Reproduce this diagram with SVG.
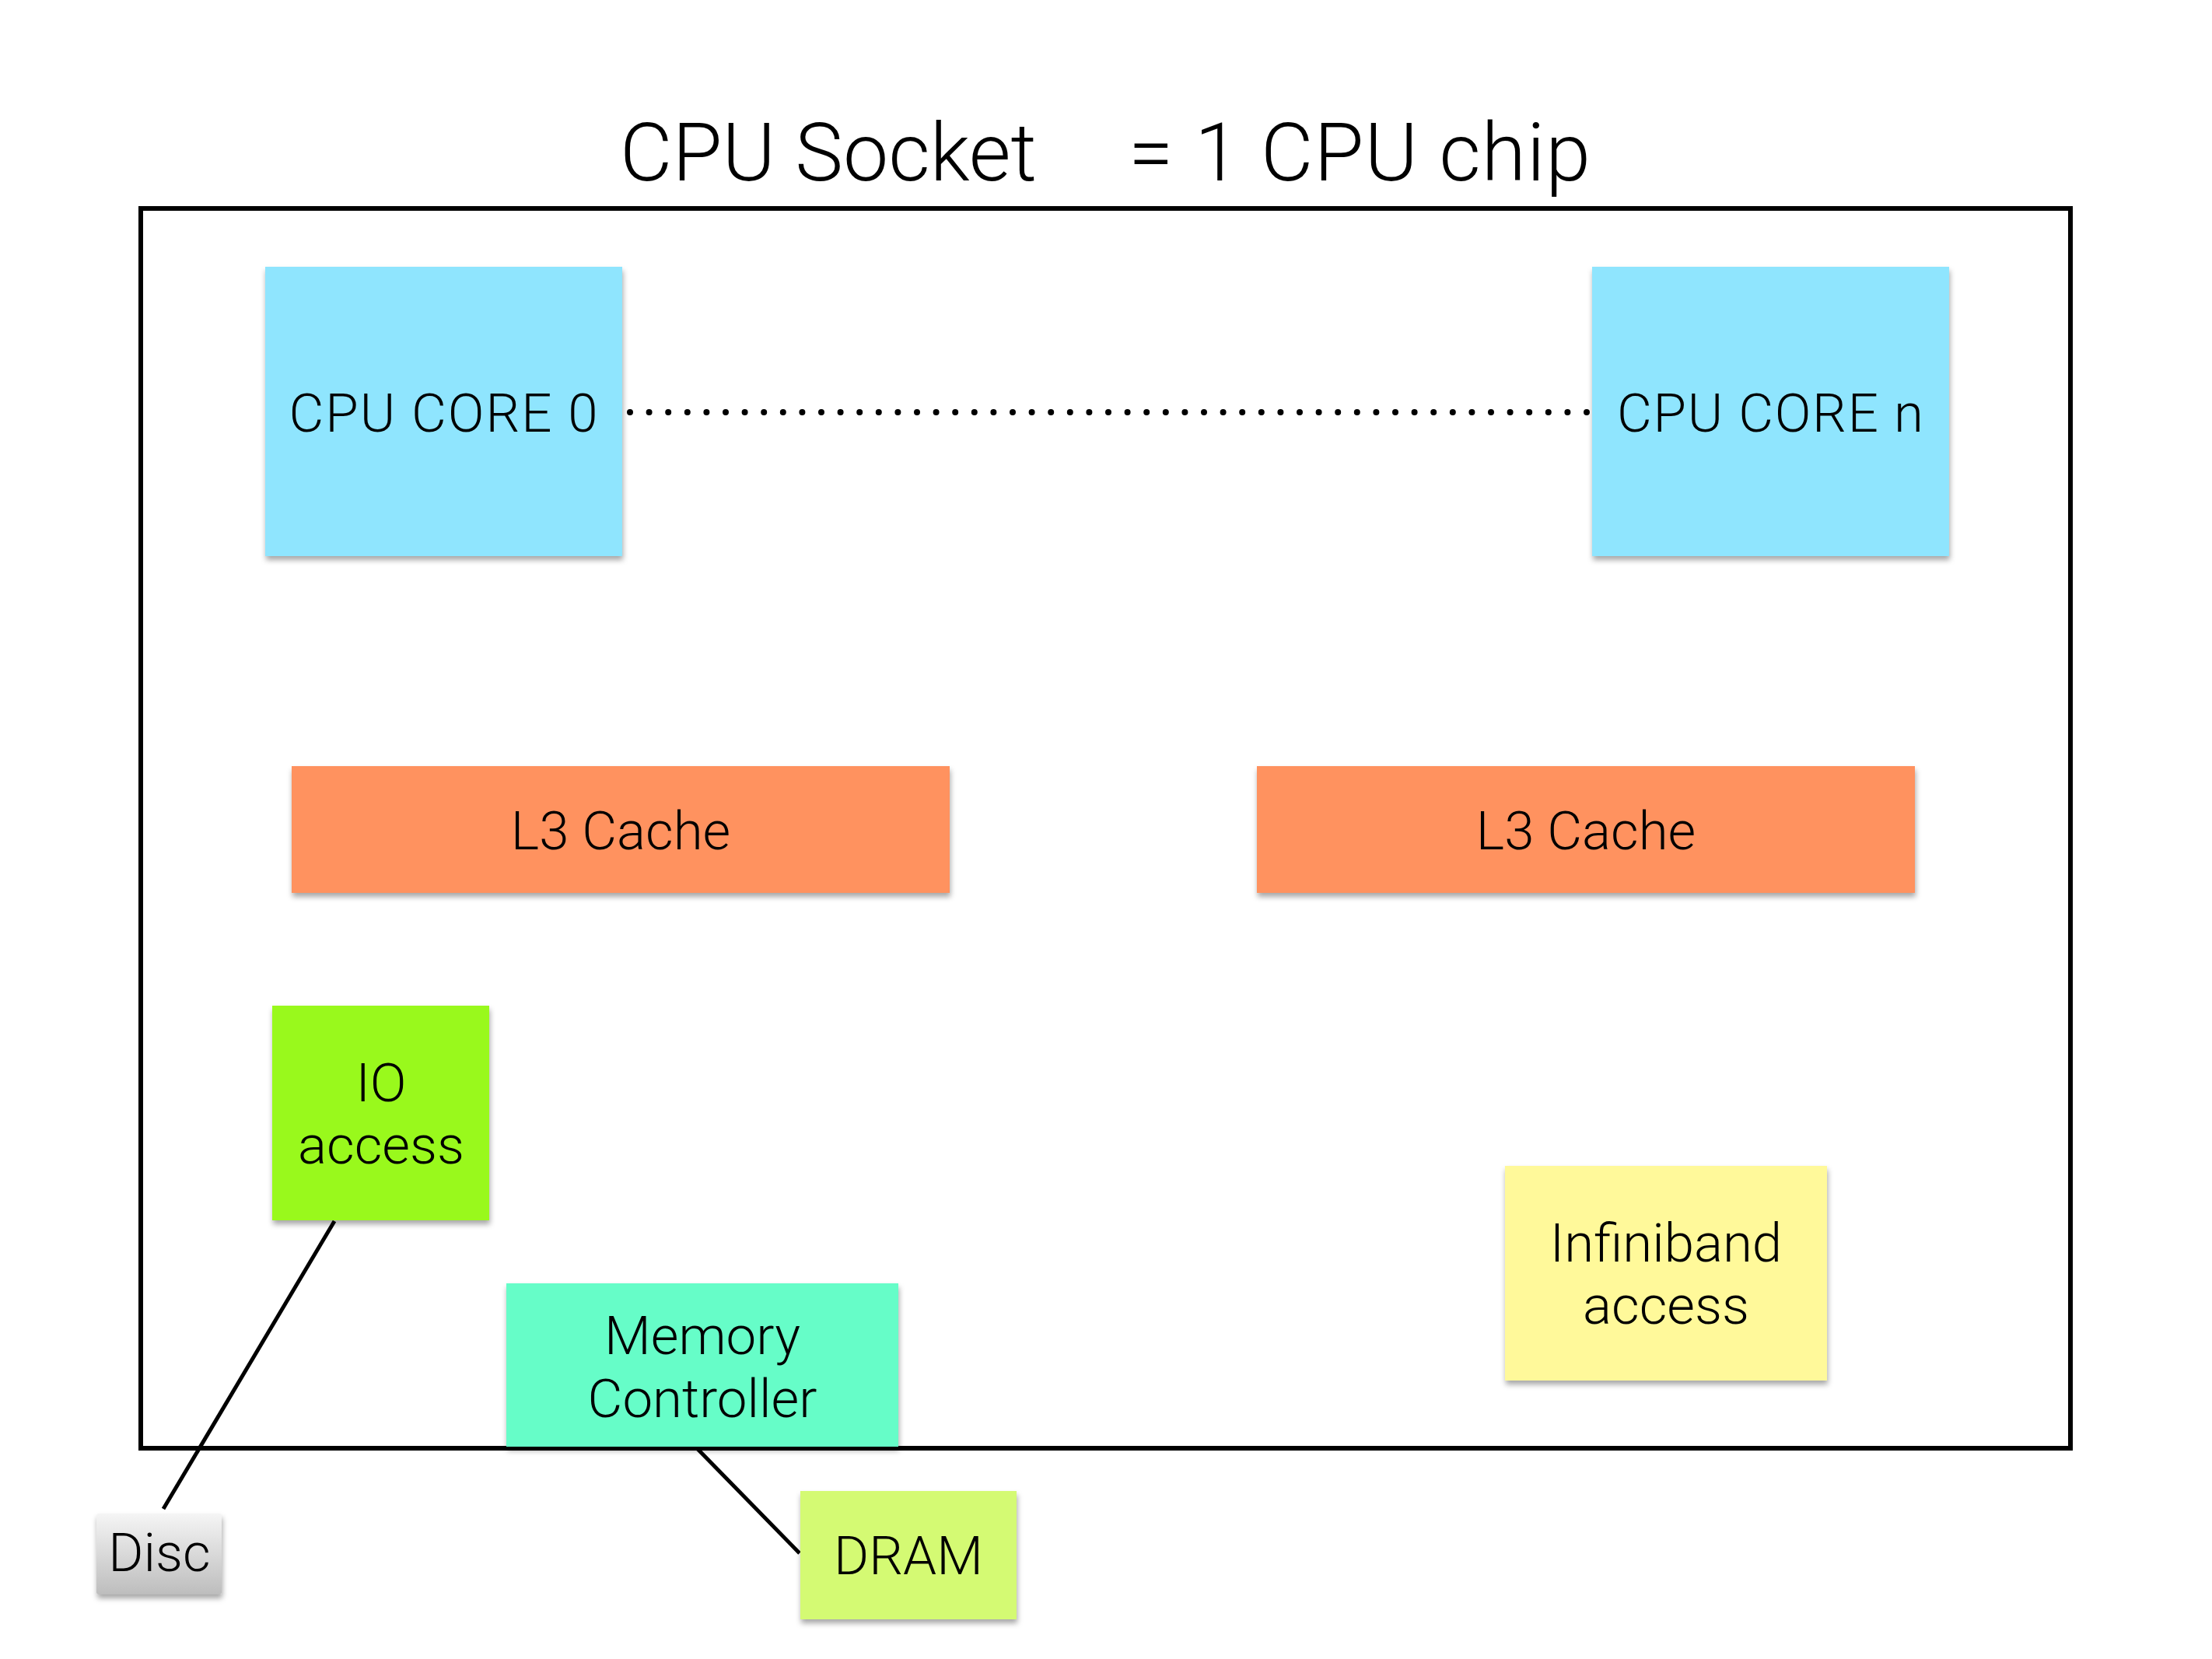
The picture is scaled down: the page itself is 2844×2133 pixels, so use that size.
<svg xmlns="http://www.w3.org/2000/svg" width="2844" height="2133" viewBox="0 0 2844 2133">
<style>
  text { font-family: Roboto, "Liberation Sans", sans-serif; font-weight: 300; fill: #000; }
  .lbl { font-size: 69px; text-anchor: middle; }
  .title { font-size: 104px; }
  .conn { stroke: #000; stroke-width: 5; fill: none; }
</style>
<defs>
  <filter id="sh" x="-10%" y="-10%" width="120%" height="130%">
    <feDropShadow dx="1" dy="5" stdDeviation="3.5" flood-color="#000" flood-opacity="0.35"/>
  </filter>
  <linearGradient id="discg" x1="0" y1="0" x2="0" y2="1">
    <stop offset="0" stop-color="#f5f5f5"/>
    <stop offset="1" stop-color="#bdbdbd"/>
  </linearGradient>
</defs>
<rect width="2844" height="2133" fill="#fff"/>

<g id="title">
  <text class="title" y="232"><tspan x="797" textLength="536" lengthAdjust="spacing">CPU Socket</tspan><tspan x="1451" textLength="594" lengthAdjust="spacing">= 1 CPU chip</tspan></text>
</g>

<g id="socket">
  <rect x="181" y="268" width="2481" height="1594" fill="none" stroke="#000" stroke-width="6"/>
</g>

<g id="connectors">
  <line x1="810" y1="530" x2="2046" y2="530" stroke="#000" stroke-width="8" stroke-linecap="round" stroke-dasharray="0 24.6"/>
  <line class="conn" x1="430" y1="1570" x2="210" y2="1940"/>
  <line class="conn" x1="894" y1="1860" x2="1028" y2="1997"/>
</g>

<g id="core0">
  <rect x="341" y="343" width="459" height="372" fill="#8fe5fe" filter="url(#sh)"/>
  <text class="lbl" x="570" y="555" textLength="397" lengthAdjust="spacing">CPU CORE 0</text>
</g>
<g id="coren">
  <rect x="2047" y="343" width="459" height="372" fill="#8fe5fe" filter="url(#sh)"/>
  <text class="lbl" x="2276" y="555" textLength="394" lengthAdjust="spacing">CPU CORE n</text>
</g>
<g id="l3a">
  <rect x="375" y="985" width="846" height="163" fill="#ff925f" filter="url(#sh)"/>
  <text class="lbl" x="798" y="1092">L3 Cache</text>
</g>
<g id="l3b">
  <rect x="1616" y="985" width="846" height="163" fill="#ff925f" filter="url(#sh)"/>
  <text class="lbl" x="2039" y="1092">L3 Cache</text>
</g>
<g id="io">
  <rect x="350" y="1293" width="279" height="276" fill="#99f91b" filter="url(#sh)"/>
  <text class="lbl" x="490" y="1416">IO</text>
  <text class="lbl" x="490" y="1496">access</text>
</g>
<g id="memctrl">
  <rect x="651" y="1650" width="504" height="210" fill="#66fdc8" filter="url(#sh)"/>
  <text class="lbl" x="903" y="1741">Memory</text>
  <text class="lbl" x="903" y="1822">Controller</text>
</g>
<g id="infiniband">
  <rect x="1935" y="1499" width="414" height="276" fill="#fff99a" filter="url(#sh)"/>
  <text class="lbl" x="2142" y="1622">Infiniband</text>
  <text class="lbl" x="2142" y="1702">access</text>
</g>
<g id="dram">
  <rect x="1029" y="1917" width="278" height="165" fill="#d4fa73" filter="url(#sh)"/>
  <text class="lbl" x="1168" y="2024">DRAM</text>
</g>
<g id="disc">
  <rect x="124" y="1946" width="161" height="104" rx="3" fill="url(#discg)" filter="url(#sh)"/>
  <text class="lbl" x="205" y="2020">Disc</text>
</g>
</svg>
